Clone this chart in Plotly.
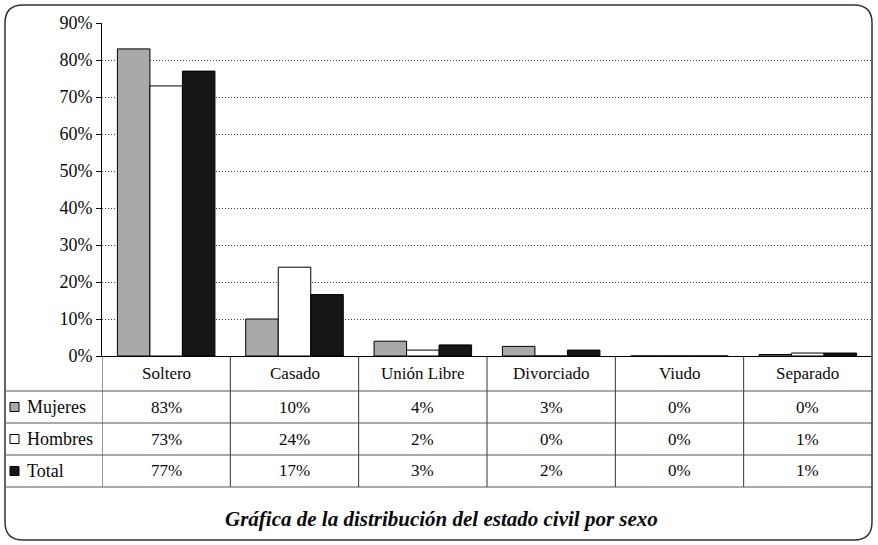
import plotly.graph_objects as go

categories = ["Soltero", "Casado", "Unión Libre", "Divorciado", "Viudo", "Separado"]
series_names = ["Mujeres", "Hombres", "Total"]
mujeres = [83, 10, 4, 2.6, 0, 0.4]
hombres = [73, 24, 1.6, 0, 0, 0.8]
total = [77, 16.6, 3, 1.6, 0, 0.8]
y_ticks = [0, 10, 20, 30, 40, 50, 60, 70, 80, 90]
title_text = "Gráfica de la distribución del estado civil por sexo"

W, H = 878, 545
L, R, T, B = 102, 6, 23, 189
PW, PH = W - L - R, H - T - B

def px(x):
    return (x - L) / PW

def py(y):
    return (H - B - y) / PH

FONT = "Liberation Serif, Times New Roman, serif"
TXT = "#0a0a0a"
fills = ["#a9a9a9", "#ffffff", "#161616"]
values = [mujeres, hombres, total]

fig = go.Figure()
for name, vals, col in zip(series_names, values, fills):
    fig.add_trace(go.Bar(x=categories, y=vals, name=name,
                         marker=dict(color=col, line=dict(color="#000", width=1))))

shapes = []
annotations = []
row_lines = [391, 423, 455, 487]
row_centers = [407, 439, 471]
header_center = 373
ncat = len(categories)
for i in range(ncat):
    shapes.append(dict(type="line", xref="x", yref="paper", x0=i - 0.5, x1=i - 0.5,
                       y0=0, y1=py(487), line=dict(color="#333", width=1)))
for yl in row_lines:
    shapes.append(dict(type="line", xref="paper", yref="paper", x0=px(6), x1=px(872),
                       y0=py(yl), y1=py(yl), line=dict(color="#555", width=1)))
for i, c in enumerate(categories):
    annotations.append(dict(x=c, xref="x", y=py(header_center), yref="paper", text=c, showarrow=False,
                            yanchor="middle", font=dict(family=FONT, size=17, color=TXT)))
for r, (name, vals, col) in enumerate(zip(series_names, values, fills)):
    yc = py(row_centers[r])
    for i, v in enumerate(vals):
        annotations.append(dict(x=categories[i], xref="x", y=yc, yref="paper", text=f"{round(v)}%",
                                showarrow=False, yanchor="middle", font=dict(family=FONT, size=17, color=TXT)))
    annotations.append(dict(x=px(25), xref="paper", y=yc, yref="paper", text=name, showarrow=False,
                            xanchor="left", yanchor="middle", font=dict(family=FONT, size=18, color=TXT)))
    shapes.append(dict(type="rect", xref="paper", yref="paper", x0=px(10), x1=px(19),
                       y0=py(row_centers[r] + 4.5), y1=py(row_centers[r] - 4.5),
                       fillcolor=col, line=dict(color="#000", width=1)))

annotations.append(dict(x=px(441), xref="paper", y=py(519), yref="paper",
                        text=f"<b><i>{title_text}</i></b>", showarrow=False, yanchor="middle",
                        font=dict(family=FONT, size=21, color=TXT)))

x0, x1, y0, y1, rr = px(5), px(872), py(540), py(5), 18
rx, ry = rr / PW, rr / PH
path = (f"M {x0+rx},{y1} L {x1-rx},{y1} Q {x1},{y1} {x1},{y1-ry} L {x1},{y0+ry} "
        f"Q {x1},{y0} {x1-rx},{y0} L {x0+rx},{y0} Q {x0},{y0} {x0},{y0+ry} L {x0},{y1-ry} Q {x0},{y1} {x0+rx},{y1} Z")
shapes.append(dict(type="path", xref="paper", yref="paper", path=path, line=dict(color="#333", width=1.5)))

fig.update_layout(
    width=W, height=H,
    margin=dict(l=L, r=R, t=T, b=B, pad=0),
    paper_bgcolor="#fff", plot_bgcolor="#fff",
    barmode="group", bargap=0.24, bargroupgap=0,
    showlegend=False,
    font=dict(family=FONT, size=17, color=TXT),
    shapes=shapes, annotations=annotations,
)
fig.update_xaxes(showticklabels=False, showgrid=False, showline=True, linecolor="#000", linewidth=1,
                 ticks="", range=[-0.5, ncat - 0.5], fixedrange=True)
fig.update_yaxes(range=[0, 90], tickvals=y_ticks, ticktext=[f"{v}%" for v in y_ticks],
                 showgrid=True, gridcolor="#444", griddash="1px,2px", gridwidth=1,
                 showline=True, linecolor="#000", linewidth=1, ticks="outside", ticklen=5,
                 tickcolor="#000", zeroline=False, automargin=False,
                 tickfont=dict(family=FONT, size=18, color=TXT))

fig.write_html("out.html", config={"displayModeBar": False},
               post_script="document.body.style.margin='0';document.body.style.overflow='hidden';")
